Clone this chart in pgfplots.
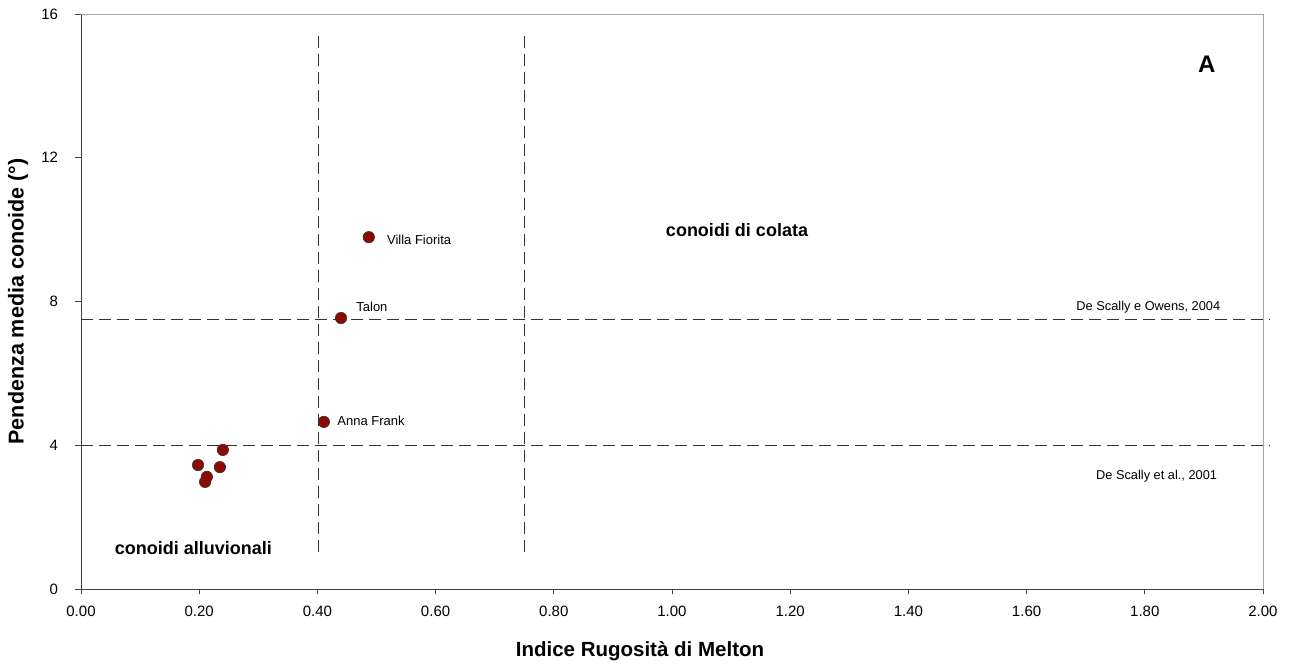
\documentclass[border=0pt]{standalone}
\usepackage{pgfplots}
\pgfplotsset{compat=1.18}
\usepackage{fontspec}
\setmainfont{Liberation Sans}
\definecolor{pt}{RGB}{140,10,0}
\begin{document}
\begin{tikzpicture}
\begin{axis}[
  scale only axis, width=1182pt, height=575pt,
  xmin=0, xmax=2, ymin=0, ymax=16,
  axis lines=left, axis line style={-, black!75, line width=0.8pt},
  xtick={0,0.2,...,2.0}, ytick={0,4,8,12,16},
  tick align=outside, major tick length=5.5pt,
  tick style={black!75, line width=0.8pt},
  /pgf/number format/assume math mode=true,
  xticklabel style={/pgf/number format/.cd, fixed, fixed zerofill, precision=2, /tikz/.cd, yshift=-8pt},
  yticklabel style={/pgf/number format/fixed, xshift=-14pt},
  ticklabel style={font=\fontsize{15}{17}\selectfont},
  xlabel={\textbf{Indice Rugosità di Melton}},
  ylabel={\textbf{Pendenza media conoide (°)}},
  xlabel style={font=\fontsize{20.5}{22}\selectfont, at={(axis description cs:0.5,0)}, anchor=center, yshift=-62pt, xshift=-32pt},
  ylabel style={font=\fontsize{21.5}{23}\selectfont, at={(axis description cs:0,0.5)}, anchor=center, yshift=63pt},
  clip=false,
]
\draw[gray!70, line width=0.8pt] (axis cs:0,16) -- (axis cs:2,16) -- (axis cs:2,0);
\addplot[black!80, line width=0.7pt, dash pattern=on 12pt off 6pt] coordinates {(0,4) (2.012,4)};
\addplot[black!80, line width=0.7pt, dash pattern=on 12pt off 6pt] coordinates {(0,7.5) (2.012,7.5)};
\addplot[black!80, line width=0.7pt, dash pattern=on 12pt off 6pt] coordinates {(0.401,1.03) (0.401,15.47)};
\addplot[black!80, line width=0.7pt, dash pattern=on 12pt off 6pt] coordinates {(0.75,1.03) (0.75,15.47)};
\addplot[only marks, mark=*, mark size=5.7pt, mark options={fill=pt, draw=black!80, line width=0.6pt}]
  coordinates {(0.198,3.45) (0.240,3.87) (0.235,3.39) (0.210,2.98) (0.213,3.12) (0.411,4.65) (0.440,7.54) (0.487,9.79)};
\node[anchor=west, font=\fontsize{13}{15}\selectfont] at (axis cs:0.512,9.72) {Villa Fiorita};
\node[anchor=west, font=\fontsize{13}{15}\selectfont] at (axis cs:0.46,7.85) {Talon};
\node[anchor=west, font=\fontsize{13}{15}\selectfont] at (axis cs:0.428,4.68) {Anna Frank};
\node[font=\bfseries\fontsize{18}{20}\selectfont] at (axis cs:0.19,1.14) {conoidi alluvionali};
\node[font=\bfseries\fontsize{18}{20}\selectfont] at (axis cs:1.11,10.0) {conoidi di colata};
\node[font=\bfseries\fontsize{24}{26}\selectfont] at (axis cs:1.905,14.6) {A};
\node[font=\fontsize{12.8}{15}\selectfont] at (axis cs:1.806,7.85) {De Scally e Owens, 2004};
\node[font=\fontsize{12.8}{15}\selectfont] at (axis cs:1.82,3.14) {De Scally et al., 2001};
\end{axis}
\pgfresetboundingbox
\path (-81pt,-79pt) rectangle (1215pt,589pt);
\end{tikzpicture}
\end{document}
